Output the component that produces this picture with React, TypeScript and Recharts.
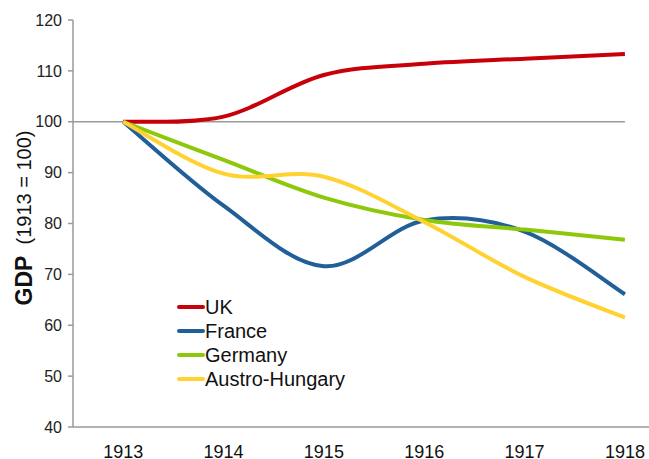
import React from "react";
import { LineChart, Line, XAxis, YAxis, ReferenceLine, Legend, Label } from "recharts";

const years = [1913, 1914, 1915, 1916, 1917, 1918];
const uk = [100, 101, 109.2, 111.4, 112.4, 113.3];
const france = [100, 83.5, 71.6, 80.6, 78.4, 66.1];
const germany = [100, 92.5, 85.1, 80.7, 78.8, 76.8];
const austria = [100, 89.8, 89.2, 80.3, 69.5, 61.5];
const yTicks = [40, 50, 60, 70, 80, 90, 100, 110, 120];

const seriesInfo = [
  { key: "uk", name: "UK", color: "#C8000A" },
  { key: "france", name: "France", color: "#215F99" },
  { key: "germany", name: "Germany", color: "#8DC80A" },
  { key: "austria", name: "Austro-Hungary", color: "#FFD232" },
];

const data = years.map((y, i) => ({
  year: y,
  uk: uk[i],
  france: france[i],
  germany: germany[i],
  austria: austria[i],
}));

// Excel-like smoothed line (Catmull-Rom as cubic Bezier)
const excelCurve: any = (context: any) => {
  let pts: number[][] = [];
  return {
    areaStart() {},
    areaEnd() {},
    lineStart() {
      pts = [];
    },
    point(x: number, y: number) {
      pts.push([+x, +y]);
    },
    lineEnd() {
      const n = pts.length;
      if (!n) return;
      context.moveTo(pts[0][0], pts[0][1]);
      const t = 1 / 6;
      for (let i = 0; i < n - 1; i++) {
        const p0 = pts[i - 1] || pts[i];
        const p1 = pts[i];
        const p2 = pts[i + 1];
        const p3 = pts[i + 2] || pts[i + 1];
        context.bezierCurveTo(
          p1[0] + (p2[0] - p0[0]) * t,
          p1[1] + (p2[1] - p0[1]) * t,
          p2[0] - (p3[0] - p1[0]) * t,
          p2[1] - (p3[1] - p1[1]) * t,
          p2[0],
          p2[1]
        );
      }
    },
  };
};

const FONT = "'Liberation Sans', Arial, Helvetica, sans-serif";

const renderLegend = () => (
  <div style={{ fontFamily: FONT }}>
    {seriesInfo.map((s) => (
      <div key={s.key} style={{ display: "flex", alignItems: "center", height: 24 }}>
        <div style={{ width: 28, height: 4, background: s.color, borderRadius: 2 }} />
        <span style={{ fontSize: 20, color: "#111", lineHeight: "24px" }}>{s.name}</span>
      </div>
    ))}
  </div>
);

const YLabel = () => {
  const cx = 24;
  const cy = 218;
  return (
    <text
      x={cx}
      y={cy}
      transform={`rotate(-90, ${cx}, ${cy})`}
      textAnchor="middle"
      dominantBaseline="central"
      fontFamily={FONT}
      fill="#111"
    >
      <tspan fontWeight="bold" fontSize={23}>GDP</tspan>
      <tspan fontSize={20}>{"\u00A0\u00A0(1913 = 100)"}</tspan>
    </text>
  );
};

export default function App() {
  return (
    <div style={{ position: "absolute", left: 0, top: 0, width: 649, height: 459, overflow: "hidden" }}>
      <LineChart
        width={649}
        height={459}
        data={data}
        margin={{ top: 20, right: 0, bottom: 0, left: 8 }}
      >
        <XAxis
          dataKey="year"
          type="number"
          domain={[1912.5, 1918.24]}
          ticks={years}
          allowDataOverflow
          tickLine={false}
          tickSize={0}
          tickMargin={18}
          height={32}
          axisLine={{ stroke: "#9a9a9a", strokeWidth: 1.5 }}
          tick={{ fill: "#111", fontSize: 18, fontFamily: FONT }}
        />
        <YAxis
          domain={[40, 120]}
          ticks={yTicks}
          width={65}
          tickSize={5}
          tickMargin={6}
          axisLine={{ stroke: "#9a9a9a", strokeWidth: 1.5 }}
          tickLine={{ stroke: "#9a9a9a", strokeWidth: 1.5 }}
          tick={{ fill: "#222", fontSize: 16, fontFamily: FONT }}
        >
          <Label content={<YLabel />} />
        </YAxis>
        <ReferenceLine
          segment={[
            { x: 1912.5, y: 100 },
            { x: 1918, y: 100 },
          ]}
          stroke="#9a9a9a"
          strokeWidth={1.5}
          ifOverflow="extendDomain"
        />
        <Legend
          content={renderLegend}
          layout="vertical"
          align="center"
          verticalAlign="middle"
          wrapperStyle={{ position: "absolute", left: 177, top: 295, width: 200, height: 100 }}
        />
        {seriesInfo.map((s) => (
          <Line
            key={s.key}
            dataKey={s.key}
            name={s.name}
            type={excelCurve}
            stroke={s.color}
            strokeWidth={4}
            dot={false}
            activeDot={false}
            isAnimationActive={false}
          />
        ))}
      </LineChart>
    </div>
  );
}
